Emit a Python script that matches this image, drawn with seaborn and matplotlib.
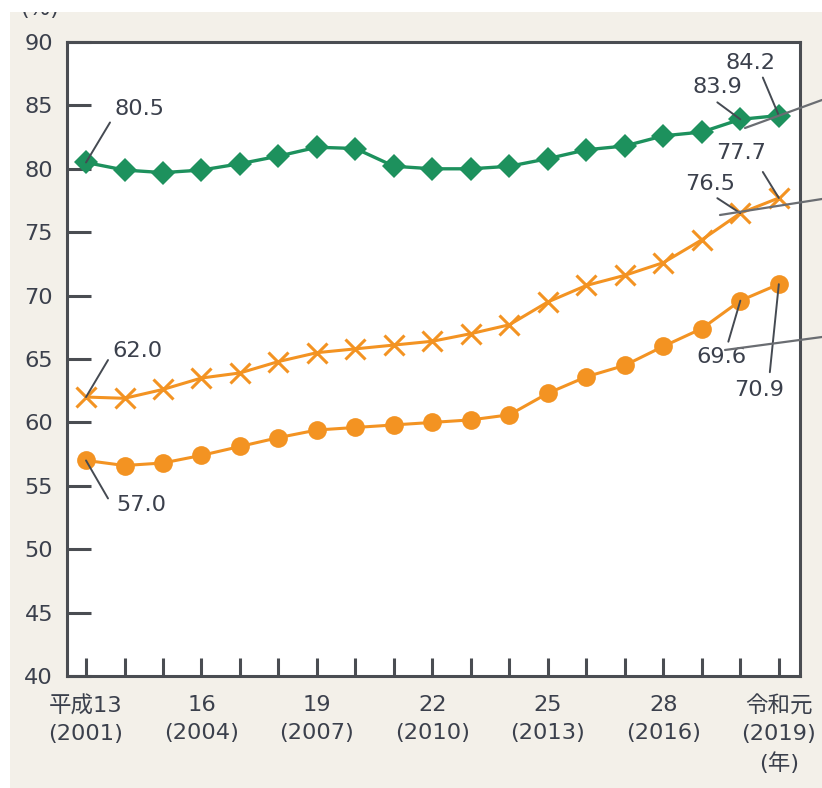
import matplotlib
matplotlib.use("Agg")
import matplotlib.pyplot as plt
from matplotlib.lines import Line2D
from matplotlib.patches import Rectangle
import seaborn as sns

# ---- data -------------------------------------------------------------
years = list(range(2001, 2020))
series_green = [80.5, 79.9, 79.7, 79.9, 80.4, 81.0, 81.7, 81.6, 80.2, 80.0,
                80.0, 80.2, 80.8, 81.5, 81.8, 82.6, 82.9, 83.9, 84.2]
series_cross = [62.0, 61.9, 62.6, 63.5, 63.9, 64.8, 65.5, 65.8, 66.1, 66.4,
                67.0, 67.7, 69.5, 70.8, 71.6, 72.6, 74.4, 76.5, 77.7]
series_dot = [57.0, 56.6, 56.8, 57.4, 58.1, 58.8, 59.4, 59.6, 59.8, 60.0,
              60.2, 60.6, 62.3, 63.6, 64.5, 66.0, 67.4, 69.6, 70.9]

tick_years = [2001, 2004, 2007, 2010, 2013, 2016, 2019]
tick_labels = ["平成13\n(2001)", "16\n(2004)", "19\n(2007)", "22\n(2010)",
               "25\n(2013)", "28\n(2016)", "令和元\n(2019)\n(年)"]
y_ticks = list(range(40, 91, 5))

# ---- style ------------------------------------------------------------
sns.set_style("ticks")
plt.rcParams["font.family"] = ["DejaVu Sans", "Noto Sans CJK JP"]

GREEN = "#1d915d"
ORANGE = "#f39322"
TEXT = "#3b404c"
SPINE = "#4a4d52"
BG = "#f3f0e9"
FS = 16.2

W, H = 822, 788
fig = plt.figure(figsize=(W / 100, H / 100), dpi=100, facecolor=BG)
ax = fig.add_axes([67 / W, 1 - 676 / H, (800 - 67) / W, (676 - 42) / H])
ax.set_facecolor("white")

sns.lineplot(x=years, y=series_green, ax=ax, color=GREEN, lw=2.4,
             marker="D", markersize=12, markeredgewidth=0, zorder=3)
sns.lineplot(x=years, y=series_cross, ax=ax, color=ORANGE, lw=2.2,
             marker="x", markersize=14, markeredgewidth=2.2,
             markeredgecolor=ORANGE, zorder=3)
sns.lineplot(x=years, y=series_dot, ax=ax, color=ORANGE, lw=2.2,
             marker="o", markersize=13.5, markeredgewidth=0, zorder=3)

ax.set_xlim(2000.506, 2019.55)
ax.set_ylim(40, 90)
ax.set_xticks(years, minor=True)
ax.set_xticks(tick_years)
ax.set_xticklabels(tick_labels, fontsize=FS, color=TEXT, linespacing=1.45,
                   va="top")
ax.set_yticks(y_ticks)
ax.set_yticklabels([str(v) for v in y_ticks], fontsize=FS, color=TEXT)
ax.set_xlabel("")
ax.set_ylabel("")

ax.tick_params(axis="x", which="both", direction="in", length=13, width=2.2,
               color=SPINE, pad=14)
ax.tick_params(axis="y", direction="in", length=17, width=2.2,
               color=SPINE, pad=10)
for sp in ax.spines.values():
    sp.set_color(SPINE)
    sp.set_linewidth(2.2)

# ---- value labels with leader lines (offsets in pixels) ------------------
def label(year, series, text, text_off, lead_off):
    v = series[years.index(year)]
    ax.annotate(text, xy=(year, v), xytext=text_off, textcoords="offset pixels",
                ha="center", va="center", fontsize=FS, color=TEXT, zorder=5)
    ax.annotate("", xy=(year, v), xytext=lead_off, textcoords="offset pixels",
                arrowprops=dict(arrowstyle="-", color="#454a52", lw=1.4,
                                shrinkA=0, shrinkB=0), zorder=4)

label(2001, series_green, "80.5", (53, 53), (24, 40))
label(2018, series_green, "83.9", (-23, 32), (-23, 17))
label(2019, series_green, "84.2", (-28, 53), (-16, 38))
label(2019, series_cross, "77.7", (-38, 45), (-16, 26))
label(2018, series_cross, "76.5", (-30, 29), (-23, 15))
label(2018, series_dot, "69.6", (-19, -56), (-12, -41))
label(2019, series_dot, "70.9", (-20, -106), (-9, -88))
label(2001, series_cross, "62.0", (51, 46), (22, 37))
label(2001, series_dot, "57.0", (55, -45), (22, -38))

# ---- connector lines running out to the right edge -----------------------
for (x0, y0), (x1, y1) in [((745, 128), (822, 100)),
                           ((720, 215), (822, 199)),
                           ((725, 350), (822, 337))]:
    fig.add_artist(Line2D([x0 / W, x1 / W], [1 - y0 / H, 1 - y1 / H],
                          transform=fig.transFigure, color="#6a6d72", lw=1.6,
                          zorder=6))

# unit label at the top of the value axis
fig.text(40 / W, 1 - 9 / H, "(%)", ha="center", va="center", fontsize=FS,
         color=TEXT, zorder=1)

# white margins along the top and left edges
fig.add_artist(Rectangle((0, 1 - 12 / H), 1, 12 / H, transform=fig.transFigure,
                         facecolor="white", edgecolor="none", zorder=20))
fig.add_artist(Rectangle((0, 0), 10 / W, 1, transform=fig.transFigure,
                         facecolor="white", edgecolor="none", zorder=20))

fig.savefig("out.png", dpi=100, facecolor=BG)
